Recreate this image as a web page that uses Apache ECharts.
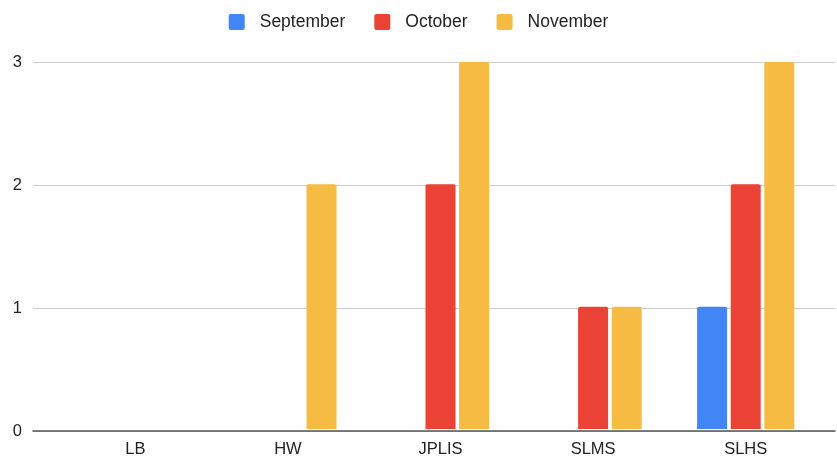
<!DOCTYPE html>
<html><head><meta charset="utf-8">
<script src="https://cdn.jsdelivr.net/npm/echarts@6/dist/echarts.min.js"></script>
<style>html,body{margin:0;padding:0;background:#fff}#c{width:837px;height:458px}</style>
</head><body><div id="c"></div>
<script>
const categories = ['LB', 'HW', 'JPLIS', 'SLMS', 'SLHS'];
const september = [0, 0, 0, 0, 1];
const october = [0, 0, 2, 1, 2];
const november = [0, 2, 3, 1, 3];
const yTicks = [0, 1, 2, 3];

const chart = echarts.init(document.getElementById('c'), null, {renderer: 'canvas'});
const font = '"Liberation Sans", Arial, sans-serif';
const mkBar = (name, data, color) => ({
  name, type: 'bar', data, xAxisIndex: 1, yAxisIndex: 1,
  barWidth: 30, barGap: '12%',
  itemStyle: {color, borderRadius: [2, 2, 0, 0]},
  emphasis: {disabled: true}
});
chart.setOption({
  animation: false,
  legend: {
    top: 8, left: 'center', itemWidth: 16, itemHeight: 16, itemGap: 29,
    icon: 'path://M2,0 H14 Q16,0 16,2 V14 Q16,16 14,16 H2 Q0,16 0,14 V2 Q0,0 2,0 Z',
    textStyle: {fontFamily: font, fontSize: 17.5, color: '#222', padding: [0, 0, 0, 10]},
    data: ['September', 'October', 'November']
  },
  grid: [
    {left: 33, right: 2, top: 62, bottom: 27},
    {left: 59, right: 15, top: 62, bottom: 27}
  ],
  xAxis: [
    {type: 'value', gridIndex: 0, min: 0, max: 1, show: true,
     axisLabel: {show: false}, axisTick: {show: false}, splitLine: {show: false},
     axisLine: {show: true, lineStyle: {color: '#555', width: 1.5}}},
    {type: 'category', gridIndex: 1, data: categories,
     axisLine: {show: false}, axisTick: {show: false},
     axisLabel: {fontFamily: font, fontSize: 16.5, color: '#222', margin: 12}}
  ],
  yAxis: [
    {type: 'value', gridIndex: 0, min: 0, max: 3, interval: 1,
     axisLine: {show: false}, axisTick: {show: false},
     axisLabel: {fontFamily: font, fontSize: 16.5, color: '#222', margin: 11,
       formatter: v => yTicks.includes(v) ? String(v) : ''},
     splitLine: {lineStyle: {color: '#cccccc', width: 1}}},
    {type: 'value', gridIndex: 1, min: 0, max: 3, interval: 1, show: false,
     splitLine: {show: false}}
  ],
  series: [
    mkBar('September', september, '#4285f4'),
    mkBar('October', october, '#ea4335'),
    mkBar('November', november, '#f6bb42')
  ]
});
</script></body></html>
